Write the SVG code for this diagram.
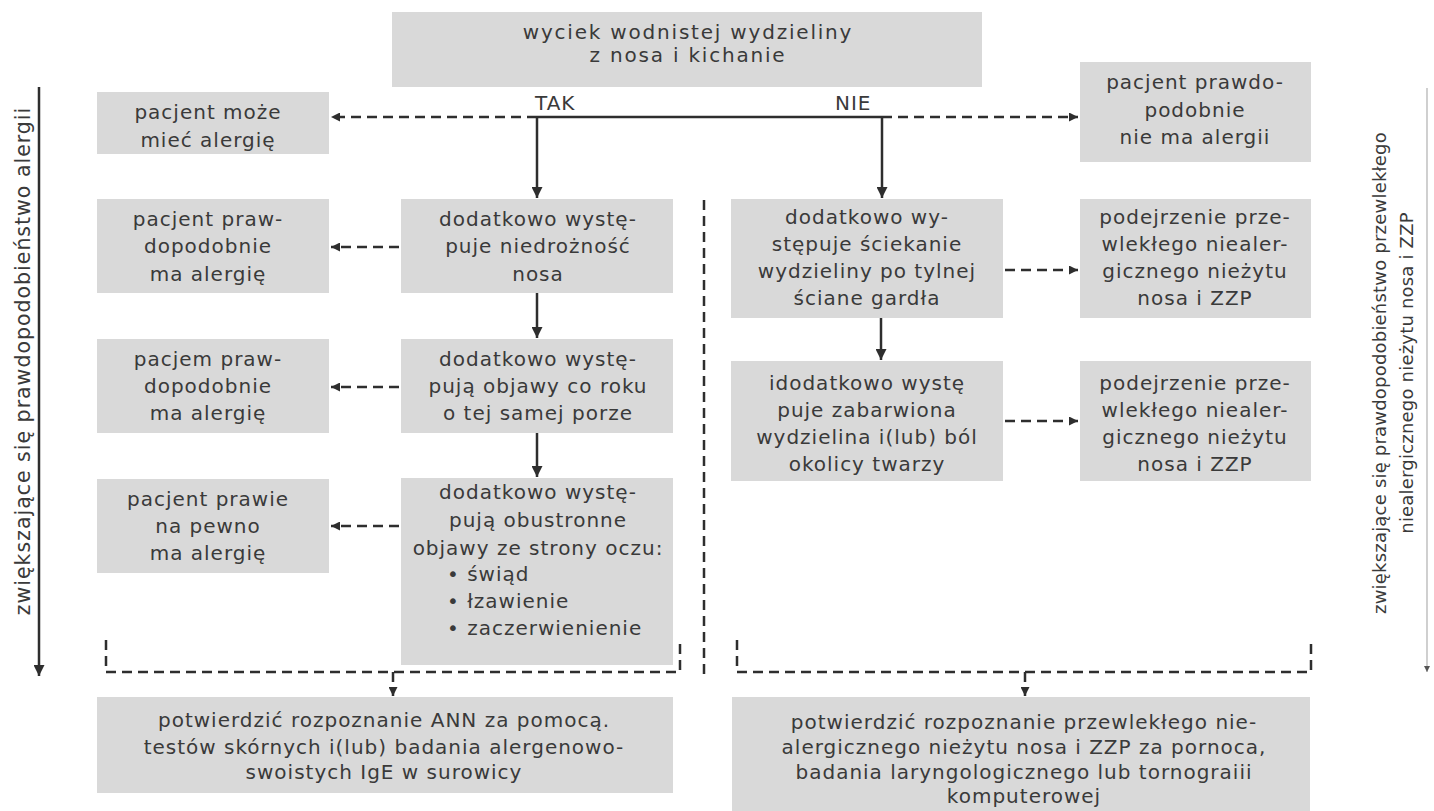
<svg xmlns="http://www.w3.org/2000/svg" width="1434" height="811" viewBox="0 0 1434 811">
<style>
.box{fill:#d9d9d9}
.t{font-family:"DejaVu Sans",sans-serif;font-size:20px;fill:#3a3a3a;text-anchor:middle;letter-spacing:1px}
.w{letter-spacing:1.8px}
.s{text-anchor:start}
.solid{stroke:#2e2e2e;stroke-width:2.5;fill:none}
.dash{stroke:#2e2e2e;stroke-width:2.5;fill:none;stroke-dasharray:10 6}
.vt{font-family:"DejaVu Sans",sans-serif;font-size:20.5px;fill:#3a3a3a;text-anchor:middle;letter-spacing:1px}
.rt{font-family:"DejaVu Sans",sans-serif;font-size:18px;fill:#3a3a3a;text-anchor:middle;letter-spacing:0.2px}
</style>
<defs>
<marker id="ah" viewBox="0 0 10 10" refX="10" refY="5" markerWidth="12" markerHeight="11" markerUnits="userSpaceOnUse" orient="auto"><path d="M0,0 L10,5 L0,10 z" fill="#2e2e2e"/></marker>
<marker id="ahs" viewBox="0 0 10 10" refX="10" refY="5" markerWidth="9" markerHeight="9" markerUnits="userSpaceOnUse" orient="auto"><path d="M0,0 L10,5 L0,10 z" fill="#2e2e2e"/></marker>
<marker id="aht" viewBox="0 0 10 10" refX="10" refY="5" markerWidth="6" markerHeight="6" markerUnits="userSpaceOnUse" orient="auto"><path d="M0,0 L10,5 L0,10 z" fill="#555"/></marker>
</defs>
<rect width="1434" height="811" fill="#fff"/>

<g id="top">
<rect class="box" x="392" y="12" width="590" height="75"/>
<text class="t w" x="688" y="39">wyciek wodnistej wydzieliny</text>
<text class="t w" x="688" y="62">z nosa i kichanie</text>
</g>

<g id="L1">
<rect class="box" x="97" y="92" width="232" height="62"/>
<text class="t" x="208" y="119">pacjent może</text>
<text class="t" x="208" y="147">mieć alergię</text>
</g>
<g id="R1">
<rect class="box" x="1080" y="62" width="231" height="100"/>
<text class="t" x="1195" y="89">pacjent prawdo-</text>
<text class="t" x="1195" y="117">podobnie</text>
<text class="t" x="1195" y="144">nie ma alergii</text>
</g>

<g id="L2">
<rect class="box" x="97" y="199" width="232" height="94"/>
<text class="t" x="208" y="226">pacjent praw-</text>
<text class="t" x="208" y="253">dopodobnie</text>
<text class="t" x="208" y="281">ma alergię</text>
</g>
<g id="M2">
<rect class="box" x="401" y="199" width="272" height="94"/>
<text class="t" x="538" y="226">dodatkowo wystę-</text>
<text class="t" x="538" y="253">puje niedrożność</text>
<text class="t" x="538" y="281">nosa</text>
</g>
<g id="L3">
<rect class="box" x="97" y="339" width="232" height="94"/>
<text class="t" x="208" y="366">pacjem praw-</text>
<text class="t" x="208" y="393">dopodobnie</text>
<text class="t" x="208" y="420">ma alergię</text>
</g>
<g id="M3">
<rect class="box" x="401" y="339" width="272" height="94"/>
<text class="t" x="538" y="366">dodatkowo wystę-</text>
<text class="t" x="538" y="393">pują objawy co roku</text>
<text class="t" x="538" y="420">o tej samej porze</text>
</g>
<g id="L4">
<rect class="box" x="97" y="479" width="232" height="94"/>
<text class="t" x="208" y="506">pacjent prawie</text>
<text class="t" x="208" y="533">na pewno</text>
<text class="t" x="208" y="560">ma alergię</text>
</g>
<g id="M4">
<rect class="box" x="401" y="478" width="272" height="187"/>
<text class="t" x="538" y="499">dodatkowo wystę-</text>
<text class="t" x="538" y="527">pują obustronne</text>
<text class="t" x="538" y="555">objawy ze strony oczu:</text>
<text class="t s" x="447" y="581">• świąd</text>
<text class="t s" x="447" y="608">• łzawienie</text>
<text class="t s" x="447" y="635">• zaczerwienienie</text>
</g>

<g id="N1">
<rect class="box" x="731" y="199" width="272" height="119"/>
<text class="t" x="867" y="224">dodatkowo wy-</text>
<text class="t" x="867" y="251">stępuje ściekanie</text>
<text class="t" x="867" y="278">wydzieliny po tylnej</text>
<text class="t" x="867" y="305">ściane gardła</text>
</g>
<g id="F1">
<rect class="box" x="1080" y="199" width="231" height="119"/>
<text class="t" x="1195" y="224">podejrzenie prze-</text>
<text class="t" x="1195" y="251">wlekłego niealer-</text>
<text class="t" x="1195" y="278">gicznego nieżytu</text>
<text class="t" x="1195" y="305">nosa i ZZP</text>
</g>
<g id="N2">
<rect class="box" x="731" y="361" width="272" height="120"/>
<text class="t" x="867" y="390">idodatkowo wystę</text>
<text class="t" x="867" y="417">puje zabarwiona</text>
<text class="t" x="867" y="444">wydzielina i(lub) ból</text>
<text class="t" x="867" y="471">okolicy twarzy</text>
</g>
<g id="G1">
<rect class="box" x="1080" y="361" width="231" height="120"/>
<text class="t" x="1195" y="390">podejrzenie prze-</text>
<text class="t" x="1195" y="417">wlekłego niealer-</text>
<text class="t" x="1195" y="444">gicznego nieżytu</text>
<text class="t" x="1195" y="471">nosa i ZZP</text>
</g>

<g id="B1">
<rect class="box" x="97" y="697" width="576" height="96"/>
<text class="t" x="384" y="727">potwierdzić rozpoznanie ANN za pomocą.</text>
<text class="t" x="384" y="754">testów skórnych i(lub) badania alergenowo-</text>
<text class="t" x="384" y="779">swoistych IgE w surowicy</text>
</g>
<g id="B2">
<rect class="box" x="732" y="697" width="578" height="114"/>
<text class="t" x="1024" y="729">potwierdzić rozpoznanie przewlekłego nie-</text>
<text class="t" x="1024" y="754">alergicznego nieżytu nosa i ZZP za pornoca,</text>
<text class="t" x="1024" y="779">badania laryngologicznego lub tornograiii</text>
<text class="t" x="1024" y="803">komputerowej</text>
</g>

<g id="labels">
<text class="t s" x="535" y="110">TAK</text>
<text class="t s" x="835" y="110">NIE</text>
</g>

<g id="axis-left">
<text class="vt" transform="translate(23,361) rotate(-90)" x="0" y="7">zwiększające się prawdopodobieństwo alergii</text>
</g>
<g id="axis-right">
<text class="rt" transform="translate(1380,373) rotate(-90)" x="0" y="6">zwiększające się prawdopodobieństwo przewlekłego</text>
<text class="rt" transform="translate(1407,373) rotate(-90)" x="0" y="6">niealergicznego nieżytu nosa i ZZP</text>
</g>

<g id="connectors">
<path class="solid" d="M537 117 H882"/>
<path class="solid" d="M537 117 V198" marker-end="url(#ah)"/>
<path class="solid" d="M882 117 V198" marker-end="url(#ah)"/>
<path class="dash" d="M537 117 H331" marker-end="url(#ahs)"/>
<path class="dash" d="M882 117 H1078" marker-end="url(#ahs)"/>
<path class="solid" d="M537 293 V338" marker-end="url(#ah)"/>
<path class="solid" d="M537 433 V477" marker-end="url(#ah)"/>
<path class="solid" d="M881 318 V360" marker-end="url(#ah)"/>
<path class="dash" d="M399 247 H331" marker-end="url(#ahs)"/>
<path class="dash" d="M399 387 H331" marker-end="url(#ahs)"/>
<path class="dash" d="M399 526 H331" marker-end="url(#ahs)"/>
<path class="dash" d="M1005 270 H1078" marker-end="url(#ahs)"/>
<path class="dash" d="M1005 421 H1078" marker-end="url(#ahs)"/>
<path class="dash" d="M704 200 V678"/>
<path class="dash" d="M106 640 V672 H680 V640"/>
<path class="dash" d="M393 672 V696" marker-end="url(#ahs)"/>
<path class="dash" d="M737 640 V672 H1311 V640"/>
<path class="dash" d="M1025 672 V696" marker-end="url(#ahs)"/>
<path class="solid" d="M39 87 V676" marker-end="url(#ah)"/>
<path d="M1427 88 V672" stroke="#b0b0b0" stroke-width="1.2" fill="none" marker-end="url(#aht)"/>
</g>
</svg>
